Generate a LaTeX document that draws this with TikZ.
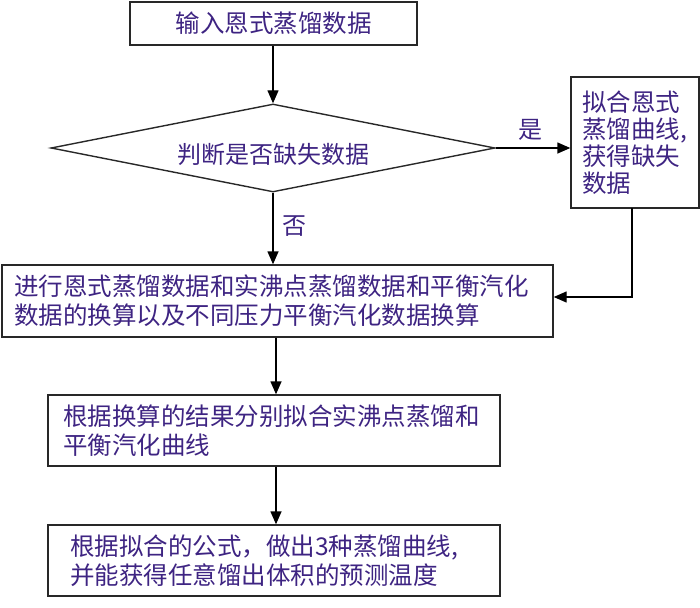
\documentclass[tikz,border=0pt]{standalone}
\usepackage{fontspec}
\newfontfamily\cjk{Noto Sans CJK SC}
\usetikzlibrary{arrows.meta,shapes.geometric,positioning}
\definecolor{txt}{RGB}{62,36,130}
\definecolor{edge}{RGB}{40,40,40}
\tikzset{
  box/.style={draw=edge,line width=1.4pt,rectangle,inner sep=0pt,font=\cjk\fontsize{24.5}{29}\selectfont,text=txt,align=left},
  flow/.style={draw=black,line width=1.4pt,-{Triangle[length=13pt,width=11pt]}},
  lbl/.style={font=\cjk\fontsize{24}{26}\selectfont,text=txt,inner sep=0pt}
}
\begin{document}
\begin{tikzpicture}[x=1pt,y=-1pt]
\useasboundingbox (0,0) rectangle (700,607);
\node[box,minimum width=287pt,minimum height=43pt,align=center] (b1) at (273.5,23.5) {输入恩式蒸馏数据};
\node[draw=edge,line width=1.4pt,diamond,inner sep=0pt,minimum width=444pt,minimum height=88pt] (d) at (273,148) {};
\node[lbl] (dt) at (273,154) {判断是否缺失数据};
\node[box,minimum width=128pt,minimum height=131pt,text width=106pt,font=\cjk\fontsize{24.5}{27}\selectfont] (r) at (635,142.5) {拟合恩式\\蒸馏曲线,\\获得缺失\\数据};
\node[box,minimum width=551pt,minimum height=72pt,text width=527pt] (b3) at (277.5,301) {进行恩式蒸馏数据和实沸点蒸馏数据和平衡汽化\\数据的换算以及不同压力平衡汽化数据换算};
\node[box,minimum width=452pt,minimum height=71pt,text width=422pt] (b4) at (274,430.5) {根据换算的结果分别拟合实沸点蒸馏和\\平衡汽化曲线};
\node[box,minimum width=452pt,minimum height=71pt,text width=408pt] (b5) at (274,560.5) {根据拟合的公式，做出3种蒸馏曲线,\\并能获得任意馏出体积的预测温度};
\draw[flow] (b1.south -| d.north) -- (d.north);
\draw[flow] (d.east) -- (r.west |- d.east);
\draw[flow] (d.south) -- (d.south |- b3.north);
\coordinate (rb) at (632,208);
\coordinate (turn) at (632,297);
\draw[flow] (rb) -- (turn) -- (b3.east |- turn);
\draw[flow] (b3.south -| 276,0) -- (b4.north -| 276,0);
\draw[flow] (b4.south -| 276,0) -- (b5.north -| 276,0);
\node[lbl] (yes) at (530,130) {是};
\node[lbl] (no) at (294,226) {否};
\end{tikzpicture}
\end{document}
